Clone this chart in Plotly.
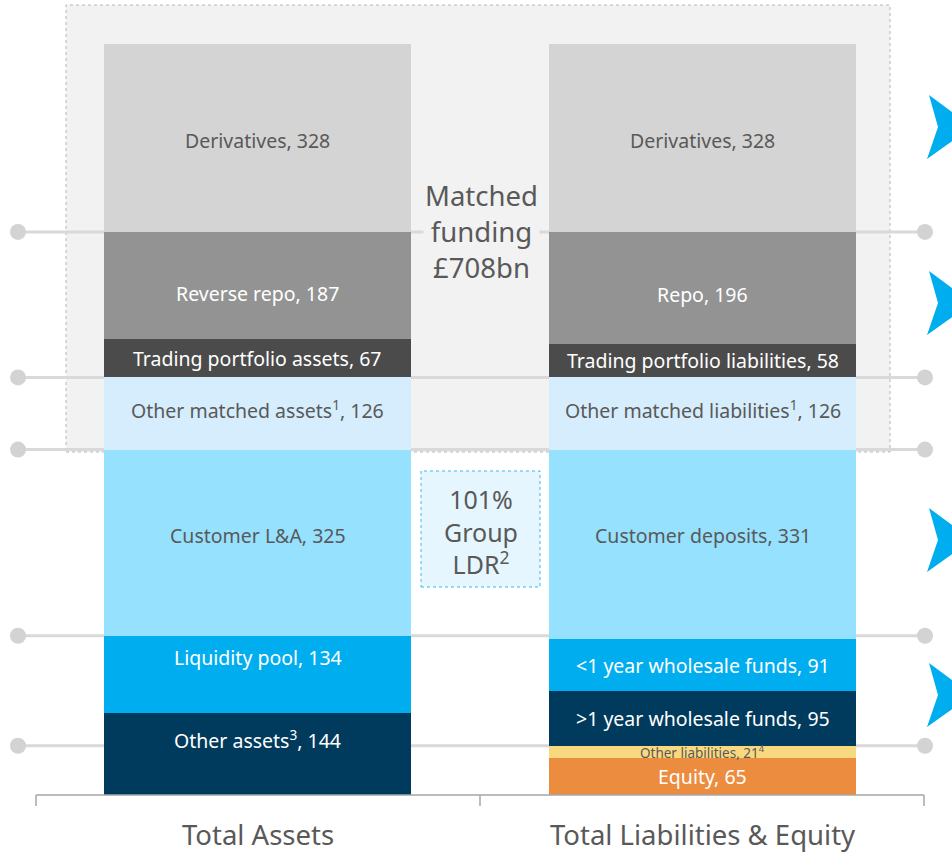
import html
import plotly.graph_objects as go

# ---------------- data ----------------
categories = ["Total Assets", "Total Liabilities & Equity"]

asset_names = ["Derivatives", "Reverse repo", "Trading portfolio assets",
               "Other matched assets", "Customer L&A", "Liquidity pool", "Other assets"]
asset_values = [328, 187, 67, 126, 325, 134, 144]
asset_name_notes = ["", "", "", "1", "", "", "3"]
asset_value_notes = ["", "", "", "", "", "", ""]

liab_names = ["Derivatives", "Repo", "Trading portfolio liabilities",
              "Other matched liabilities", "Customer deposits",
              "<1 year wholesale funds", ">1 year wholesale funds",
              "Other liabilities", "Equity"]
liab_values = [328, 196, 58, 126, 331, 91, 95, 21, 65]
liab_name_notes = ["", "", "", "1", "", "", "", "", ""]
liab_value_notes = ["", "", "", "", "", "", "", "4", ""]

ldr_text = "101%<br>Group<br>LDR<sup>2</sup>"

# ---------------- styles ----------------
asset_colors = ["#d4d4d4", "#939393", "#4b4b4b", "#d5edfc", "#95e1fe", "#00aeef", "#003a5c"]
asset_text = ["#595959", "white", "white", "#595959", "#595959", "white", "white"]
liab_colors = ["#d4d4d4", "#939393", "#4b4b4b", "#d5edfc", "#95e1fe", "#00aeef", "#003a5c",
               "#f9d97f", "#ec8c3e"]
liab_text = ["#595959", "white", "white", "#595959", "#595959", "white", "white",
             "#595959", "white"]
label_shift = {("A", "Liquidity pool"): 17, ("A", "Other assets"): 14,
               ("A", "Customer L&A"): 7, ("L", "Customer deposits"): 9,
               ("A", "Reverse repo"): -8, ("L", "Repo"): -6, ("A", "Derivatives"): -3,
               ("L", "Derivatives"): -3, ("A", "Other matched assets"): 4,
               ("L", "Other matched liabilities"): 4}
label_size = {("L", "Other liabilities"): 13.5}

FONT = "'Noto Sans', 'Open Sans', sans-serif"
OX, OY = 0, 0          # body margin removed via post_script
WIN_W, WIN_H = 952, 852
W, H = WIN_W - OX, WIN_H - OY
BOTTOM = 795           # window pixel of the plot bottom
BAR_TOP = 44           # window pixel where stacks end
CX0, PITCH = 257.5, 445.0

total = sum(asset_values)
YMAX = total * (BOTTOM - OY) / (BOTTOM - BAR_TOP)


def px_x(p):
    return (p - OX) / W


def px_y(p):
    return (BOTTOM - p) / (BOTTOM - OY)


fig = go.Figure()
shapes = []
annotations = []

# grey matched-funding panel
shapes.append(dict(type="rect", xref="paper", yref="paper", layer="below",
                   x0=px_x(66), x1=px_x(890), y0=px_y(452), y1=px_y(5),
                   fillcolor="#f2f2f2", line=dict(color="#b5b5b5", width=1, dash="dot")))


def stack_bounds(values):
    rev = values[::-1]
    bounds = []
    acc = 0
    for v in rev:
        bounds.append((acc, acc + v))
        acc += v
    return bounds[::-1]


a_bounds = stack_bounds(asset_values)
l_bounds = stack_bounds(liab_values)

# horizontal guide lines at key boundaries (derived from data)
guide_levels = [a_bounds[0][0], a_bounds[2][0], a_bounds[3][0], a_bounds[4][0], l_bounds[6][0]]
for lv in guide_levels:
    shapes.append(dict(type="line", xref="paper", yref="y", layer="below",
                       x0=px_x(18), x1=px_x(925), y0=lv, y1=lv,
                       line=dict(color="#d9d9d9", width=3)))
    for xp in (18, 925):
        shapes.append(dict(type="circle", xref="paper", yref="y", layer="below",
                           xsizemode="pixel", ysizemode="pixel",
                           xanchor=px_x(xp), yanchor=lv,
                           x0=-8, x1=8, y0=-8, y1=8,
                           fillcolor="#d3d3d3", line=dict(width=0)))


def add_stack(xpos, names, values, colors, tcolors, nnotes, vnotes, key):
    bounds = stack_bounds(values)
    order = list(range(len(values)))[::-1]  # bottom first
    for i in order:
        fig.add_trace(go.Bar(x=[xpos], y=[values[i]], width=0.69,
                             marker=dict(color=colors[i], line=dict(width=0)),
                             hoverinfo="skip", showlegend=False))
    for i in range(len(values)):
        txt = html.escape(names[i])
        if nnotes[i]:
            txt += f"<sup>{nnotes[i]}</sup>"
        txt += f", {values[i]}"
        if vnotes[i]:
            txt += f"<sup>{vnotes[i]}</sup>"
        mid = (bounds[i][0] + bounds[i][1]) / 2
        annotations.append(dict(x=xpos, y=mid, xref="x", yref="y", text=txt,
                                xanchor="center", yanchor="middle",
                                showarrow=False, yshift=label_shift.get((key, names[i]), 0),
                                font=dict(family=FONT, size=label_size.get((key, names[i]), 19.5),
                                          color=tcolors[i])))


add_stack(0, asset_names, asset_values, asset_colors, asset_text,
          asset_name_notes, asset_value_notes, "A")
add_stack(1, liab_names, liab_values, liab_colors, liab_text,
          liab_name_notes, liab_value_notes, "L")

# matched funding label
matched = sum(asset_values[:4])
annotations.append(dict(x=px_x(481), y=px_y(231), xref="paper", yref="paper",
                        xanchor="center", yanchor="middle",
                        text=f"Matched<br>funding<br>£{matched}bn", showarrow=False,
                        bgcolor="#f2f2f2", borderpad=1,
                        font=dict(family=FONT, size=27.5, color="#595959")))

# LDR box
shapes.append(dict(type="rect", xref="paper", yref="paper",
                   x0=px_x(421), x1=px_x(540), y0=px_y(587), y1=px_y(471),
                   fillcolor="#e5f6fe", line=dict(color="#3bb8ea", width=1, dash="dot")))
annotations.append(dict(x=px_x(481), y=px_y(531), xref="paper", yref="paper",
                        xanchor="center", yanchor="middle",
                        text=ldr_text, showarrow=False,
                        font=dict(family=FONT, size=25, color="#595959")))

# bottom axis with ticks
shapes.append(dict(type="line", xref="paper", yref="paper",
                   x0=px_x(36), x1=px_x(924), y0=0, y1=0,
                   line=dict(color="#a6a6a6", width=1.5)))
for tp in (36, 480, 924):
    shapes.append(dict(type="line", xref="paper", yref="paper",
                       x0=px_x(tp), x1=px_x(tp), y0=0, y1=px_y(806),
                       line=dict(color="#a6a6a6", width=1.5)))
for i, c in enumerate(categories):
    annotations.append(dict(x=i, y=px_y(834), xref="x", yref="paper", text=c,
                            showarrow=False, xanchor="center", yanchor="middle",
                            font=dict(family=FONT, size=27.5, color="#595959")))

# blue chevrons on the right
for cy in (127, 303, 540, 695):
    path = (f"M {px_x(929)},{px_y(cy-32)} L {px_x(972)},{px_y(cy)} "
            f"L {px_x(927)},{px_y(cy+32)} L {px_x(938)},{px_y(cy)} Z")
    shapes.append(dict(type="path", xref="paper", yref="paper", path=path,
                       fillcolor="#00aeef", line=dict(width=0)))

fig.update_layout(
    width=W, height=H, barmode="stack", bargap=0,
    margin=dict(l=0, r=0, t=0, b=WIN_H - BOTTOM),
    paper_bgcolor="white", plot_bgcolor="rgba(0,0,0,0)",
    showlegend=False,
    xaxis=dict(range=[(OX - CX0) / PITCH, (WIN_W - CX0) / PITCH], visible=False,
               fixedrange=True),
    yaxis=dict(range=[0, YMAX], visible=False, fixedrange=True),
    shapes=shapes, annotations=annotations,
)

fig.write_html("out.html", config={"displayModeBar": False},
               post_script="document.body.style.margin='0';document.body.style.overflow='hidden';")
